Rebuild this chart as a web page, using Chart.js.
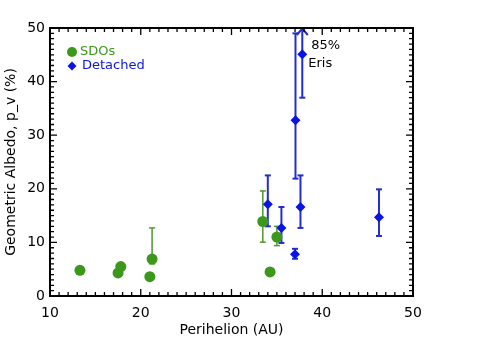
<!DOCTYPE html>
<html><head><meta charset="utf-8">
<script src="https://cdn.jsdelivr.net/npm/chart.js@4/dist/chart.umd.min.js"></script>
<style>html,body{margin:0;padding:0;background:#fff}</style>
</head><body>
<canvas id="c" width="477" height="352"></canvas>
<script>
// ---- data ----
const sdoPerihelion = [13.3, 17.5, 17.8, 21.0, 21.25, 33.45, 34.25, 35.0];
const sdoAlbedo     = [4.8, 4.3, 5.5, 3.6, 6.9, 13.9, 4.5, 11.0];
const sdoLow        = [null, null, null, null, 6.0, 10.05, null, 9.4];
const sdoHigh       = [null, null, null, null, 12.7, 19.6, null, 13.0];

const detPerihelion = [34.0, 35.5, 37.0, 37.05, 37.6, 37.8, 46.25];
const detAlbedo     = [17.1, 12.7, 7.8, 32.8, 16.6, 45.1, 14.7];
const detLow        = [13.0, 9.9, 6.95, 21.9, 12.7, 37.0, 11.2];
const detHigh       = [22.5, 16.6, 8.8, 49.0, 22.5, 85, 19.9];

const xTicks = [10, 20, 30, 40, 50];
const yTicks = [0, 10, 20, 30, 40, 50];
const erisIndex = 5;
const erisLabels = ["85%", "Eris"];

const GREEN = "rgb(60,152,26)";
const GREEN_BAR = "rgb(80,150,45)";
const BLUE = "rgb(10,20,230)";
const BLUE_BAR = "rgb(35,45,205)";
const FONT = "DejaVu Sans";

const toPts = (xs, ys) => xs.map((x, i) => ({x: x, y: ys[i]}));

const errorBars = {
  id: 'errorBars',
  beforeDatasetsDraw(chart) {
    const {ctx, chartArea: ca, scales: {x, y}} = chart;
    ctx.save();
    ctx.beginPath(); ctx.rect(ca.left, ca.top, ca.right - ca.left, ca.bottom - ca.top); ctx.clip();
    chart.data.datasets.forEach(ds => {
      ctx.strokeStyle = ds.barColor; ctx.lineWidth = ds.barWidth;
      ds.data.forEach((p, i) => {
        const lo = ds.low[i], hi = ds.high[i];
        if (lo == null || hi == null) return;
        const px = x.getPixelForValue(p.x);
        const pl = y.getPixelForValue(lo), ph = y.getPixelForValue(hi);
        ctx.beginPath(); ctx.moveTo(px, pl); ctx.lineTo(px, Math.max(ph, ca.top)); ctx.stroke();
        const c = 3;
        ctx.beginPath(); ctx.moveTo(px - c, pl); ctx.lineTo(px + c, pl); ctx.stroke();
        if (ph >= ca.top) {
          ctx.beginPath(); ctx.moveTo(px - c, ph); ctx.lineTo(px + c, ph); ctx.stroke();
        } else {
          ctx.beginPath();
          ctx.moveTo(px - 5.5, ca.top + 7); ctx.lineTo(px, ca.top + 0.5); ctx.lineTo(px + 5.5, ca.top + 7);
          ctx.stroke();
        }
      });
    });
    ctx.restore();
  }
};

const frameTicks = {
  id: 'frameTicks',
  afterDraw(chart) {
    const {ctx, chartArea: ca, scales: {x, y}} = chart;
    ctx.save();
    ctx.strokeStyle = '#000';
    ctx.lineWidth = 1.3;
    for (let v = x.min; v <= x.max + 1e-9; v += 1) {
      const px = x.getPixelForValue(v);
      const len = (Math.round(v) % 10 === 0) ? 7 : 4;
      ctx.beginPath();
      ctx.moveTo(px, ca.bottom); ctx.lineTo(px, ca.bottom - len);
      ctx.moveTo(px, ca.top); ctx.lineTo(px, ca.top + len);
      ctx.stroke();
    }
    for (let v = y.min; v <= y.max + 1e-9; v += 1) {
      const py = y.getPixelForValue(v);
      const len = (Math.round(v) % 10 === 0) ? 7 : 4;
      ctx.beginPath();
      ctx.moveTo(ca.left, py); ctx.lineTo(ca.left + len, py);
      ctx.moveTo(ca.right, py); ctx.lineTo(ca.right - len, py);
      ctx.stroke();
    }
    ctx.lineWidth = 2;
    ctx.strokeRect(ca.left, ca.top, ca.right - ca.left, ca.bottom - ca.top);

    // legend
    const ds = chart.data.datasets;
    ctx.font = "13px '" + FONT + "'";
    ctx.textBaseline = 'middle';
    ctx.textAlign = 'left';
    const lx = ca.left + 22;
    const ly0 = ca.top + 24, ly1 = ca.top + 38;
    ctx.fillStyle = ds[0].backgroundColor;
    ctx.beginPath(); ctx.arc(lx, ly0, 5, 0, Math.PI * 2); ctx.fill();
    ctx.fillText(ds[0].label, lx + 8, ly0);
    ctx.fillStyle = ds[1].backgroundColor;
    ctx.beginPath();
    ctx.moveTo(lx, ly1 - 4.5); ctx.lineTo(lx + 4.5, ly1); ctx.lineTo(lx, ly1 + 4.5); ctx.lineTo(lx - 4.5, ly1);
    ctx.closePath(); ctx.fill();
    ctx.fillText(ds[1].label, lx + 10, ly1);

    // Eris annotation
    const ex = x.getPixelForValue(detPerihelion[erisIndex]);
    const ey = y.getPixelForValue(detAlbedo[erisIndex]);
    ctx.fillStyle = '#000';
    ctx.fillText(erisLabels[0], ex + 9, ey - 9);
    ctx.fillText(erisLabels[1], ex + 6, ey + 9);
    ctx.restore();
  }
};

new Chart(document.getElementById('c'), {
  type: 'scatter',
  data: {
    datasets: [
      { label: 'SDOs', data: toPts(sdoPerihelion, sdoAlbedo), low: sdoLow, high: sdoHigh,
        pointStyle: 'circle', pointRadius: 5.5, backgroundColor: GREEN, borderColor: GREEN, borderWidth: 0,
        barColor: GREEN_BAR, barWidth: 1.5 },
      { label: 'Detached', data: toPts(detPerihelion, detAlbedo), low: detLow, high: detHigh,
        pointStyle: 'rectRot', pointRadius: 5, backgroundColor: BLUE, borderColor: BLUE, borderWidth: 0,
        barColor: BLUE_BAR, barWidth: 2 }
    ]
  },
  options: {
    responsive: false,
    animation: false,
    devicePixelRatio: 1,
    layout: { padding: { top: 28, right: 64, left: 0, bottom: 0 } },
    plugins: { legend: { display: false }, tooltip: { enabled: false } },
    scales: {
      x: {
        type: 'linear', min: 10, max: 50,
        afterFit: s => { s.height = 56; },
        afterBuildTicks: s => { s.ticks = xTicks.map(v => ({value: v})); },
        grid: { display: false, drawTicks: false },
        border: { display: false },
        ticks: { color: '#000', font: { family: FONT, size: 14 }, padding: 9, maxRotation: 0 },
        title: { display: true, text: 'Perihelion (AU)', color: '#000',
                 font: { family: FONT, size: 14 }, padding: { top: 0, bottom: 13 } }
      },
      y: {
        type: 'linear', min: 0, max: 50,
        afterFit: s => { s.width = 50; },
        afterBuildTicks: s => { s.ticks = yTicks.map(v => ({value: v})); },
        grid: { display: false, drawTicks: false },
        border: { display: false },
        ticks: { color: '#000', font: { family: FONT, size: 14 }, padding: 5 },
        title: { display: true, text: 'Geometric Albedo, p_v (%)', color: '#000',
                 font: { family: FONT, size: 14 }, padding: { top: 3, bottom: 0 } }
      }
    }
  },
  plugins: [errorBars, frameTicks]
});
</script>
</body></html>
